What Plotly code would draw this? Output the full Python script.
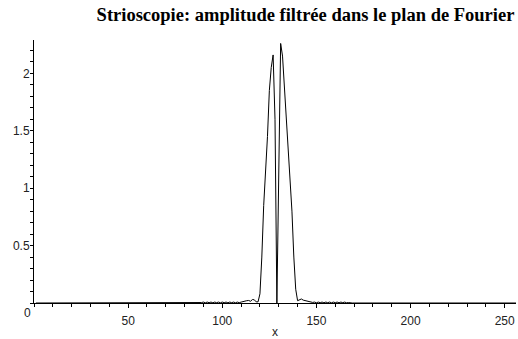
import plotly.graph_objects as go

# x positions 1..256 (frequency index)
n_points = 256
x_vals = list(range(1, n_points + 1))

# amplitude, by region
zeros_left = [0.0] * 88                     # x = 1 .. 88
noise_left = [0.004, 0.008, 0.002, 0.008, 0.003, 0.008, 0.002, 0.008, 0.003, 0.008,
              0.002, 0.008, 0.003, 0.008, 0.002, 0.008, 0.003, 0.008, 0.002, 0.008,
              0.003, 0.008]                 # x = 89 .. 110
lobe_left = [0.012, 0.022, 0.02, 0.022, 0.015, 0.03, 0.028, 0.01]   # x = 111 .. 118
main_lobe = [0.01, 0.08, 0.4, 0.85, 1.12, 1.45, 1.85, 2.05, 2.16,   # x = 119 .. 127
             1.6, 0.0, 1.3,                                          # x = 128 .. 130
             2.26, 2.15, 1.9, 1.6, 1.4, 1.12, 0.8, 0.4, 0.12, 0.02]  # x = 131 .. 140
lobe_right = [0.03, 0.035, 0.025, 0.02, 0.015, 0.01, 0.008, 0.005]  # x = 141 .. 148
noise_right = [0.008, 0.002, 0.008, 0.003, 0.008, 0.002, 0.008, 0.003, 0.008, 0.002,
               0.008, 0.003, 0.008, 0.002, 0.008, 0.003, 0.008, 0.002, 0.004]  # x = 149 .. 167
amplitude = zeros_left + noise_left + lobe_left + main_lobe + lobe_right + noise_right
zeros_right = [0.0] * (n_points - len(amplitude))
amplitude = amplitude + zeros_right

x_ticks = [50, 100, 150, 200, 250]
y_ticks = [0.5, 1, 1.5, 2]

fig = go.Figure()
fig.add_trace(go.Scatter(x=x_vals, y=amplitude, mode="lines",
                         line=dict(color="black", width=1), hoverinfo="skip"))

tick_font = dict(family="Liberation Sans, Arial, sans-serif", size=12, color="#222")

fig.update_layout(
    width=518, height=339,
    margin=dict(l=34, r=2, t=40, b=28),
    paper_bgcolor="white", plot_bgcolor="white",
    showlegend=False,
    title=dict(text="Strioscopie: amplitude filtrée dans le plan de Fourier",
               font=dict(family="Liberation Serif, Times New Roman, serif", size=18.5, color="black",
                         weight="bold"),
               x=305.5 / 518, xref="container", xanchor="center",
               y=1 - 15 / 339, yref="container", yanchor="middle"),
    xaxis=dict(range=[0, 256], showgrid=False, zeroline=False,
               showline=True, linecolor="black", linewidth=1,
               tickvals=x_ticks, ticks="outside", ticklen=4, tickcolor="black",
               ticklabelstandoff=3,
               minor=dict(dtick=10, ticks="outside", ticklen=3, tickcolor="black"),
               tickfont=tick_font,
               title=dict(text="x", font=tick_font, standoff=0)),
    yaxis=dict(range=[0, 2.29], showgrid=False, zeroline=False,
               showline=True, linecolor="black", linewidth=1,
               tickvals=y_ticks, ticktext=["0.5", "1", "1.5", "2"],
               ticks="outside", ticklen=3, tickcolor="black", ticklabelstandoff=-2,
               minor=dict(dtick=0.1, ticks="outside", ticklen=3, tickcolor="black"),
               tickfont=tick_font),
)
fig.add_annotation(text="0", x=0, y=0, xref="x", yref="y", showarrow=False,
                   xanchor="right", yanchor="top", xshift=-1, yshift=-1, font=tick_font)

fig.write_html("out.html")
